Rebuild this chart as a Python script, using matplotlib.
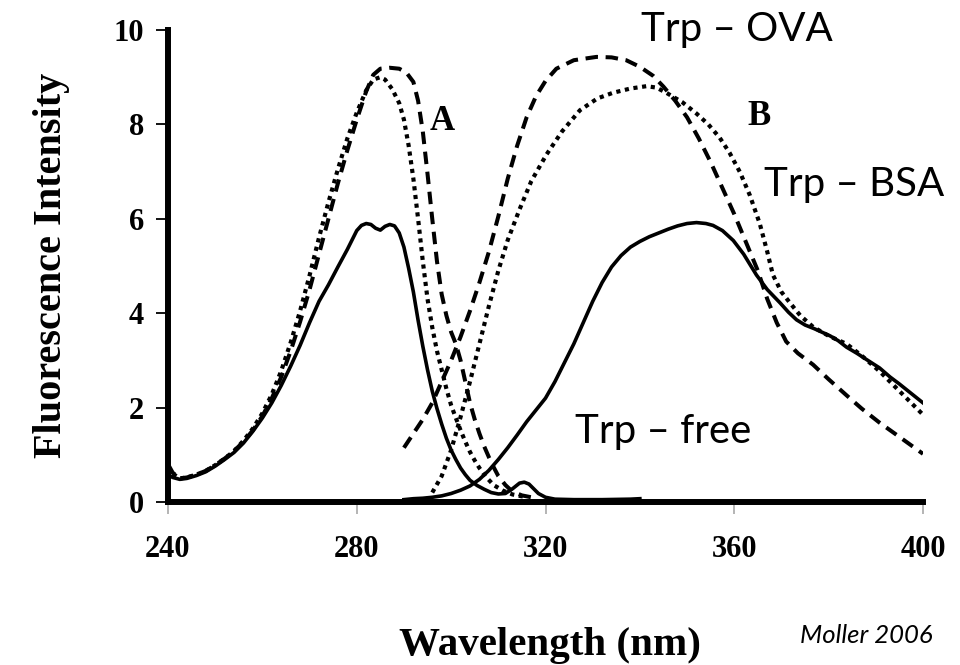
import matplotlib
matplotlib.use("Agg")
import matplotlib.pyplot as plt

# ---- data ----
# Excitation spectra (panel A)
ex_free_x = [240, 241, 242.5, 244, 246, 248, 250, 252, 254, 256, 258, 260, 262, 264, 266, 268, 270, 272, 274, 276,
             278, 280, 281, 282, 283, 284, 285, 286, 287, 288, 289, 290, 291, 292, 293, 294, 295, 296, 297, 298,
             299, 300, 301, 302, 303, 304, 305.5, 307, 308.5, 310, 311.5, 313, 314.5, 315.5, 316.5, 317.5, 318.5,
             320, 322, 326, 332, 338, 340]
ex_free_y = [0.58, 0.52, 0.48, 0.5, 0.56, 0.64, 0.76, 0.9, 1.05, 1.25, 1.5, 1.78, 2.1, 2.47, 2.88, 3.32, 3.8, 4.25,
             4.6, 4.98, 5.35, 5.75, 5.86, 5.9, 5.88, 5.8, 5.76, 5.84, 5.88, 5.85, 5.7, 5.4, 4.95, 4.45, 3.85, 3.3,
             2.8, 2.35, 1.98, 1.65, 1.35, 1.1, 0.9, 0.72, 0.58, 0.46, 0.35, 0.27, 0.2, 0.17, 0.18, 0.28, 0.4, 0.42,
             0.38, 0.28, 0.18, 0.1, 0.06, 0.05, 0.05, 0.06, 0.07]

ex_bsa_x = [240, 241, 242.5, 244, 246, 248, 250, 252, 254, 256, 258, 260, 262, 264, 266, 268, 270, 272, 274, 276,
            278, 280, 282, 283.5, 285, 286, 287.5, 289, 290, 291, 292, 293, 294, 295, 296, 297, 298, 299, 300, 301,
            302, 303, 304, 305, 306, 307.5, 309, 311, 313, 316]
ex_bsa_y = [0.75, 0.6, 0.5, 0.52, 0.58, 0.66, 0.78, 0.92, 1.08, 1.3, 1.56, 1.88, 2.28, 2.78, 3.38, 4.05, 4.8, 5.6,
            6.35, 7.05, 7.7, 8.25, 8.72, 8.95, 9.0, 8.95, 8.75, 8.45, 8.1, 7.55, 6.85, 6.0, 5.1, 4.3, 3.7, 3.2, 2.8,
            2.4, 2.05, 1.78, 1.52, 1.28, 1.06, 0.88, 0.72, 0.52, 0.36, 0.24, 0.16, 0.1]

ex_ova_x = [240, 241, 242.5, 244, 246, 248, 250, 252, 254, 256, 258, 260, 262, 264, 266, 268, 270, 272, 274, 276,
            278, 280, 282, 283.5, 285, 287, 289, 290.5, 292, 293, 294, 295, 296, 297, 298, 299, 300, 301, 302, 303,
            304, 305, 306, 307, 308, 309, 310, 311.5, 313, 315, 317]
ex_ova_y = [0.8, 0.62, 0.5, 0.52, 0.58, 0.66, 0.78, 0.92, 1.08, 1.28, 1.52, 1.82, 2.2, 2.65, 3.2, 3.82, 4.5, 5.25,
            6.0, 6.75, 7.45, 8.1, 8.7, 9.05, 9.18, 9.2, 9.18, 9.1, 8.9, 8.5, 7.85, 6.95, 6.0, 5.1, 4.4, 3.95, 3.6,
            3.35, 3.0, 2.55, 2.1, 1.75, 1.45, 1.18, 0.95, 0.74, 0.55, 0.36, 0.22, 0.14, 0.1]

# Emission spectra (panel B)
em_free_x = [290, 292, 294, 296, 298, 300, 302, 304, 306, 308, 310, 312, 314, 316, 318, 320, 322, 324, 326, 328,
             330, 332, 334, 336, 338, 340, 342, 344, 346, 348, 350, 352, 354, 355.5, 357.5, 359.8, 362, 364.7, 367,
             369.7, 371.5, 373.2, 375, 377, 380.3, 382, 383.8, 386, 388, 390.8, 393, 395, 397.5, 400]
em_free_y = [0.05, 0.07, 0.08, 0.1, 0.13, 0.18, 0.25, 0.34, 0.48, 0.67, 0.9, 1.15, 1.42, 1.7, 1.95, 2.2, 2.55, 2.95,
             3.35, 3.8, 4.25, 4.65, 4.98, 5.22, 5.4, 5.52, 5.62, 5.7, 5.78, 5.85, 5.9, 5.92, 5.9, 5.86, 5.75, 5.54,
             5.25, 4.81, 4.5, 4.22, 4.02, 3.86, 3.75, 3.67, 3.52, 3.42, 3.28, 3.15, 3.02, 2.84, 2.65, 2.5, 2.3, 2.1]

em_bsa_x = [296, 298, 300, 302, 304, 306, 308, 310, 312, 314.5, 317, 320.2, 323.5, 327.3, 331, 334.3, 338, 341.4,
            343.5, 345.6, 349, 352, 354.5, 356.9, 359, 361.2, 363.3, 365.4, 367, 368.2, 370, 371.8, 374, 376.7,
            380, 383.8, 387, 390.8, 395, 400]
em_bsa_y = [0.2, 0.55, 1.1, 1.8, 2.55, 3.35, 4.15, 4.9, 5.55, 6.2, 6.8, 7.36, 7.85, 8.3, 8.55, 8.67, 8.76, 8.81,
            8.78, 8.67, 8.47, 8.23, 8.0, 7.72, 7.4, 6.99, 6.5, 5.9, 5.3, 4.81, 4.45, 4.22, 3.95, 3.71, 3.52, 3.35,
            3.1, 2.77, 2.35, 1.85]

em_ova_x = [290, 292, 294, 296, 298, 300, 302, 304, 306, 308, 310, 312, 314, 316, 318, 320, 322.3, 326, 330.8,
            334, 337.1, 340, 342.8, 345, 347.5, 350, 352.5, 355, 357.5, 360, 362.5, 365, 367, 369, 371, 373.5,
            376.7, 380, 383.8, 387, 390.8, 395, 400]
em_ova_y = [1.15, 1.45, 1.75, 2.1, 2.55, 3.0, 3.5, 4.05, 4.65, 5.3, 6.05, 6.85, 7.55, 8.15, 8.6, 8.92, 9.18, 9.36,
            9.43, 9.42, 9.36, 9.22, 9.03, 8.8, 8.5, 8.15, 7.7, 7.2, 6.65, 6.1, 5.5, 4.9, 4.3, 3.8, 3.4, 3.15,
            2.91, 2.6, 2.26, 1.98, 1.68, 1.38, 1.02]

x_ticks = [240, 280, 320, 360, 400]
y_ticks = [0, 2, 4, 6, 8, 10]

# ---- figure ----
W, H = 960, 665
fig = plt.figure(figsize=(W / 100, H / 100), dpi=100)
L, R, B, T = 168, 923, 502, 30
ax = fig.add_axes([L / W, 1 - B / H, (R - L) / W, (B - T) / H])

col = "black"
solid_kw = dict(color=col, lw=2.6, ls="-", solid_joinstyle="round")
dash_kw = dict(color=col, lw=2.9, ls=(0, (3.1, 1.9)), dash_capstyle="butt")
dot_kw = dict(color=col, lw=3.0, ls=(0, (1.0, 1.1)), dash_capstyle="butt")

ax.plot(ex_free_x, ex_free_y, **solid_kw)
ax.plot(ex_bsa_x, ex_bsa_y, **dot_kw)
ax.plot(ex_ova_x, ex_ova_y, **dash_kw)
ax.plot(em_free_x, em_free_y, **solid_kw)
ax.plot(em_bsa_x, em_bsa_y, **dot_kw)
ax.plot(em_ova_x, em_ova_y, **dash_kw)

ax.set_xlim(240, 400)
ax.set_ylim(0, 10)
for s in ["top", "right"]:
    ax.spines[s].set_visible(False)
for s in ["left", "bottom"]:
    ax.spines[s].set_linewidth(4.3)
    ax.spines[s].set_capstyle("projecting")
ax.set_xticks(x_ticks)
ax.set_yticks(y_ticks)

serif = ["Liberation Serif", "DejaVu Serif"]
ax.set_xticklabels([str(v) for v in x_ticks], family=serif, weight="bold", fontsize=22)
ax.set_yticklabels([str(v) for v in y_ticks], family=serif, weight="bold", fontsize=22)
ax.tick_params(axis="y", direction="out", length=8.6, width=1.3, pad=8.6)
ax.tick_params(axis="x", direction="out", length=8.6, width=1.1, color="#a0a0a0", pad=15)

fig.text(52 / W, 1 - 265 / H, "Fluorescence Intensity", rotation=90, ha="center", va="center",
         family=serif, weight="bold", fontsize=29)
fig.text(550 / W, 1 - 655 / H, "Wavelength (nm)", ha="center", va="baseline",
         family=serif, weight="bold", fontsize=29.5)

fig.text(442.5 / W, 1 - 130 / H, "A", family=serif, weight="bold", fontsize=25, ha="center", va="baseline")
fig.text(759 / W, 1 - 125 / H, "B", family=serif, weight="bold", fontsize=25, ha="center", va="baseline")

sans = ["Lato", "DejaVu Sans"]
fig.text(641 / W, 1 - 41.5 / H, "Trp \u2013 OVA", family=sans, fontsize=29, ha="left", va="baseline")
fig.text(764 / W, 1 - 196 / H, "Trp \u2013 BSA", family=sans, fontsize=29, ha="left", va="baseline")
fig.text(575 / W, 1 - 443 / H, "Trp \u2013 free", family=sans, fontsize=29, ha="left", va="baseline")
fig.text(800 / W, 1 - 643 / H, "Moller 2006", family=sans, style="italic", fontsize=18.5, ha="left", va="baseline")

fig.savefig("out.png", dpi=100)
